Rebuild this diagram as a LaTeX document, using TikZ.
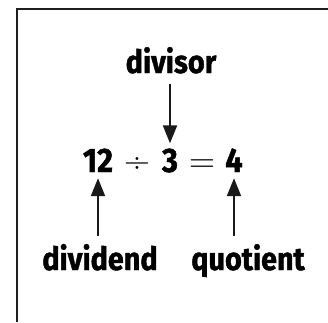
\documentclass[tikz,border=0pt]{standalone}
\usepackage{fontspec}
\setmainfont{Fira Sans}[FakeStretch=0.9, BoldFeatures={FakeBold=1.3}]
\newfontfamily\opfont{Latin Modern Roman}
\usetikzlibrary{arrows.meta}

\begin{document}
\begin{tikzpicture}[x=1pt, y=-1pt,
  lbl/.style={font=\bfseries\fontsize{32}{36}\selectfont, inner sep=0pt, anchor=base},
  num/.style={font=\bfseries\fontsize{34}{38}\selectfont, inner sep=0pt, anchor=base},
  op/.style={font=\opfont\fontsize{36}{40}\selectfont, inner sep=0pt, anchor=base},
  arr/.style={-{Triangle[length=18pt, width=14pt]}, line width=2pt, color=black!90}]
  \useasboundingbox (0,0) rectangle (328,322);
  % frame, only top and left edges visible
  \draw[line width=2.6pt, color=black!88] (17,322) -- (17,9) -- (328,9);
  % equation
  \node[num] (n12) at (98,172) {12};
  \node[op]  (div) at (137,172) {÷};
  \node[num] (n3)  at (170,172) {3};
  \node[op]  (eq)  at (202,172) {=};
  \node[num] (n4)  at (234,172) {4};
  % labels
  \node[lbl] (divisor)  at (171,73)  {divisor};
  \node[lbl] (dividend) at (100,270) {dividend};
  \node[lbl] (quotient) at (248,270) {quotient};
  \draw[arr, shorten <=10pt, shorten >=5pt] (divisor.south -| n3) -- (n3.north);
  \draw[arr, shorten <=8pt, shorten >=6pt] (dividend.north -| n12) -- (n12.south);
  \draw[arr, shorten <=8pt, shorten >=6pt] (quotient.north -| n4) -- (n4.south);
\end{tikzpicture}
\end{document}
